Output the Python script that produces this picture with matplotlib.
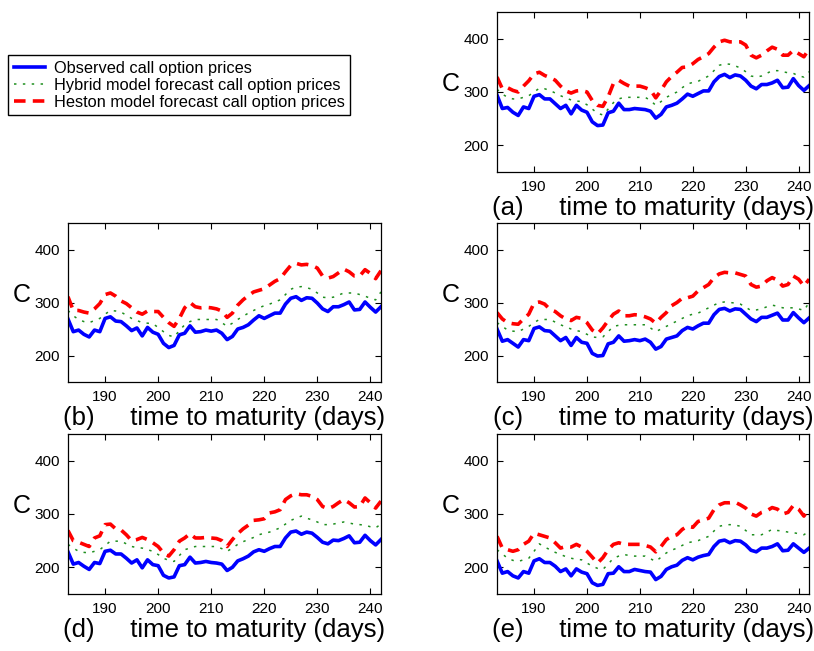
import numpy as np
import matplotlib
matplotlib.use('Agg')
import matplotlib.pyplot as plt

plt.rcParams['font.family'] = 'Liberation Sans'

# time to maturity in days
days = np.arange(183, 243)

# (a)
obs_a = [294, 269, 271, 262, 256, 272, 269, 292, 295, 287,
         287, 278, 269, 275, 259, 275, 266, 262, 244, 237,
         238, 261, 264, 279, 267, 267, 269, 268, 267, 264,
         251, 258, 272, 275, 279, 287, 296, 292, 297, 302,
         302, 319, 329, 333, 327, 332, 330, 322, 311, 306,
         314, 314, 317, 322, 308, 309, 325, 312, 303, 312]
hyb_a = [305, 296, 290, 287, 287, 290, 293, 300, 307, 306,
         303, 298, 293, 289, 285, 283, 282, 276, 268, 260,
         257, 268, 280, 287, 290, 290, 290, 290, 290, 284,
         275, 282, 290, 295, 300, 308, 315, 318, 320, 325,
         330, 340, 350, 353, 352, 349, 345, 338, 330, 328,
         330, 335, 340, 340, 338, 336, 335, 330, 328, 338]
hes_a = [328, 306, 308, 303, 300, 311, 321, 334, 337, 331,
         327, 322, 311, 302, 298, 302, 303, 300, 284, 275,
         273, 291, 316, 322, 316, 311, 311, 311, 308, 304,
         289, 303, 319, 329, 337, 346, 347, 353, 361, 366,
         372, 384, 394, 397, 394, 394, 394, 388, 369, 364,
         369, 377, 384, 380, 369, 369, 378, 372, 366, 381]

# (b)
obs_b = [269, 245, 248, 240, 235, 248, 245, 270, 273, 265,
         264, 256, 247, 252, 237, 253, 244, 240, 223, 215,
         219, 239, 242, 256, 244, 245, 248, 246, 248, 242,
         230, 236, 250, 253, 258, 267, 275, 270, 275, 280,
         280, 297, 308, 311, 304, 309, 308, 299, 288, 283,
         292, 292, 296, 301, 286, 287, 301, 291, 282, 292]
hyb_b = [285, 275, 268, 264, 262, 266, 270, 278, 285, 284,
         282, 276, 270, 266, 262, 261, 260, 253, 245, 238,
         235, 247, 258, 264, 268, 268, 268, 268, 268, 262,
         255, 261, 268, 274, 280, 285, 290, 294, 297, 301,
         305, 315, 325, 329, 330, 328, 325, 318, 310, 309,
         310, 314, 318, 318, 318, 315, 312, 308, 305, 320]
hes_b = [311, 285, 285, 282, 280, 288, 298, 315, 318, 312,
         303, 298, 290, 282, 278, 284, 283, 283, 272, 262,
         255, 270, 290, 300, 292, 290, 291, 290, 288, 284,
         272, 280, 295, 305, 313, 320, 323, 326, 333, 340,
         345, 358, 370, 374, 371, 372, 370, 365, 350, 346,
         349, 356, 363, 358, 350, 350, 362, 355, 345, 360]

# (c)
obs_c = [250, 227, 230, 223, 216, 230, 228, 251, 254, 247,
         246, 237, 228, 234, 219, 234, 225, 223, 204, 199,
         200, 222, 225, 237, 227, 228, 230, 228, 231, 225,
         212, 217, 231, 234, 237, 247, 253, 250, 256, 261,
         261, 277, 287, 289, 284, 288, 287, 278, 269, 264,
         272, 272, 276, 280, 267, 267, 281, 271, 262, 271]
hyb_c = [262, 255, 248, 246, 245, 250, 255, 262, 268, 268,
         268, 263, 258, 254, 250, 247, 245, 240, 235, 234,
         235, 245, 255, 257, 258, 258, 258, 258, 258, 252,
         245, 250, 255, 260, 265, 270, 275, 278, 280, 285,
         290, 295, 300, 301, 300, 299, 297, 291, 285, 286,
         288, 292, 295, 293, 290, 290, 290, 288, 285, 300]
hes_c = [281, 269, 262, 260, 259, 269, 278, 299, 301, 297,
         287, 283, 275, 269, 266, 272, 270, 262, 248, 241,
         252, 266, 278, 284, 275, 275, 277, 276, 273, 269,
         261, 272, 281, 294, 300, 308, 309, 312, 322, 328,
         334, 347, 354, 357, 356, 356, 353, 350, 334, 329,
         331, 341, 347, 342, 331, 334, 350, 344, 331, 344]

# (d)
obs_d = [229, 206, 209, 202, 196, 209, 207, 230, 232, 225,
         225, 217, 208, 214, 199, 214, 205, 203, 185, 180,
         182, 203, 205, 219, 208, 209, 211, 209, 208, 206,
         194, 200, 212, 216, 221, 229, 233, 230, 235, 239,
         239, 255, 266, 268, 262, 266, 264, 256, 247, 244,
         251, 250, 254, 259, 246, 247, 260, 250, 242, 252]
hyb_d = [243, 236, 230, 228, 227, 230, 233, 241, 249, 249,
         249, 244, 239, 237, 236, 233, 230, 224, 217, 213,
         211, 222, 233, 236, 239, 239, 239, 239, 239, 235,
         230, 236, 243, 248, 252, 256, 261, 264, 266, 270,
         274, 281, 288, 292, 296, 292, 289, 285, 280, 280,
         281, 283, 285, 283, 281, 280, 279, 276, 274, 281]
hes_d = [269, 250, 247, 243, 239, 255, 259, 280, 281, 272,
         270, 261, 250, 252, 256, 252, 246, 239, 227, 221,
         233, 249, 255, 263, 255, 255, 256, 255, 254, 250,
         239, 252, 263, 272, 279, 288, 289, 291, 302, 304,
         308, 327, 334, 338, 336, 336, 333, 327, 314, 310,
         314, 321, 327, 321, 313, 314, 330, 321, 311, 324]

# (e)
obs_e = [212, 189, 192, 184, 180, 192, 189, 212, 216, 209,
         209, 202, 192, 197, 184, 197, 191, 188, 171, 166,
         168, 188, 189, 201, 192, 192, 196, 194, 192, 191,
         177, 183, 196, 201, 204, 213, 218, 214, 219, 222,
         224, 239, 249, 251, 246, 250, 249, 242, 232, 229,
         236, 236, 239, 244, 231, 232, 244, 236, 228, 236]
hyb_e = [233, 225, 217, 213, 211, 214, 217, 230, 244, 238,
         233, 228, 224, 220, 217, 215, 214, 208, 202, 198,
         196, 206, 217, 221, 224, 222, 221, 221, 221, 216,
         211, 219, 227, 232, 236, 241, 246, 248, 250, 254,
         258, 268, 277, 279, 280, 279, 277, 269, 261, 261,
         261, 266, 271, 269, 268, 266, 265, 263, 261, 268]
hes_e = [258, 236, 233, 230, 233, 243, 249, 264, 261, 258,
         255, 246, 236, 239, 238, 243, 238, 230, 219, 208,
         218, 233, 243, 246, 243, 243, 243, 243, 241, 238,
         229, 239, 252, 258, 261, 271, 277, 275, 286, 289,
         292, 308, 317, 321, 321, 322, 317, 311, 300, 296,
         303, 306, 312, 309, 300, 303, 316, 309, 296, 311]

series_labels = ['Observed call option prices',
                 'Hybrid model forecast call option prices',
                 'Heston model forecast call option prices']

panels = [
    ('a', obs_a, hyb_a, hes_a, [0.6106, 0.7358, 0.3835, 0.2458]),
    ('b', obs_b, hyb_b, hes_b, [0.0835, 0.4132, 0.3845, 0.2442]),
    ('c', obs_c, hyb_c, hes_c, [0.6106, 0.4132, 0.3835, 0.2442]),
    ('d', obs_d, hyb_d, hes_d, [0.0835, 0.0876, 0.3845, 0.2458]),
    ('e', obs_e, hyb_e, hes_e, [0.6106, 0.0876, 0.3835, 0.2458]),
]

fig = plt.figure(figsize=(8.14, 6.51), dpi=100)

handles = None
for tag, obs, hyb, hes, rect in panels:
    ax = fig.add_axes(rect)
    l1, = ax.plot(days, obs, color='#0000ff', lw=2.6)
    l2, = ax.plot(days, hyb, color='#1f8f1f', lw=1.1, ls=(0, (1.6, 4.2)))
    l3, = ax.plot(days, hes, color='#ff0000', lw=2.6, ls=(0, (3.2, 2.0)))
    if handles is None:
        handles = [l1, l2, l3]
    ax.set_xlim(183, 242)
    ax.set_ylim(150, 450)
    ax.set_xticks(range(190, 241, 10))
    ax.set_yticks([200, 300, 400])
    ax.tick_params(direction='in', top=True, right=True, labelsize=11,
                   length=4, width=0.8, pad=6)
    for s in ax.spines.values():
        s.set_linewidth(0.9)
    ax.set_xlabel('(%s)     time to maturity (days)' % tag, fontsize=18.5,
                  labelpad=1)
    ax.set_ylabel('C', rotation=0, fontsize=18, va='center', ha='right')
    ax.yaxis.set_label_coords(-0.12, 0.55)

fig.legend(handles, series_labels, loc='upper left',
           bbox_to_anchor=(0.0098, 0.9155), fontsize=11.8, frameon=True,
           fancybox=False, edgecolor='black', framealpha=1,
           borderaxespad=0, handlelength=1.9, labelspacing=0.12,
           borderpad=0.35, handletextpad=0.55)

fig.savefig('out.png', dpi=100)
